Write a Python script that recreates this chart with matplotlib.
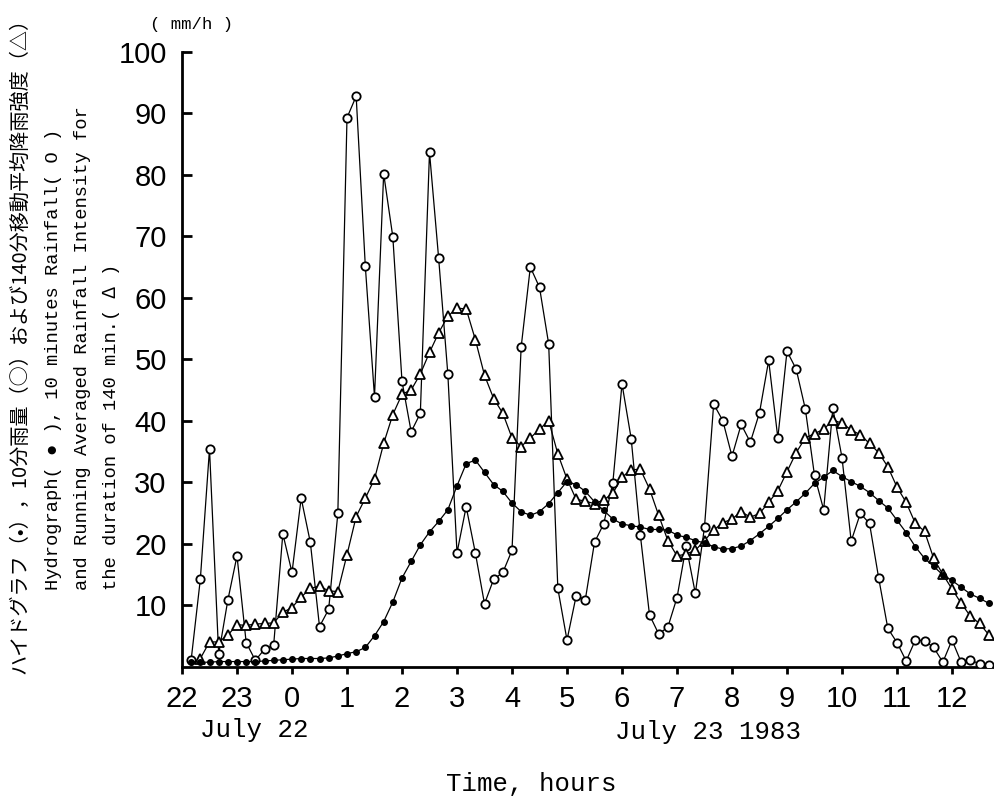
import numpy as np
import matplotlib.pyplot as plt

# 10-minute samples, k = 1, 2, ... counted from 22:00 July 22
STEP_H = 10 / 60

# hydrograph (filled dots)
hydro = [0.8, 0.7, 0.7, 0.8, 0.8, 0.8, 0.8, 0.8, 0.9, 1.0,
         1.1, 1.2, 1.3, 1.3, 1.3, 1.4, 1.7, 2.1, 2.4, 3.1,
         5.0, 7.3, 10.5, 14.4, 17.1, 19.8, 21.9, 23.6, 25.5, 29.4,
         33.0, 33.6, 31.6, 29.6, 28.5, 26.6, 25.2, 24.6, 25.2, 26.5,
         28.3, 30.1, 29.6, 28.5, 26.8, 25.4, 24.0, 23.2, 22.9, 22.7,
         22.3, 22.3, 22.2, 21.4, 21.0, 20.5, 20.1, 19.5, 19.1, 19.2,
         19.6, 20.5, 21.6, 22.8, 24.1, 25.5, 26.8, 28.2, 29.8, 30.8,
         31.9, 30.9, 30.1, 29.3, 28.3, 27.0, 25.8, 23.8, 21.8, 19.5,
         17.6, 16.3, 14.9, 14.0, 12.9, 11.8, 11.1, 10.3]

# 10 minutes rainfall (open circles)
rain10 = [1.1, 14.2, 35.4, 2.0, 10.8, 18.0, 3.9, 1.0, 2.8, 3.5,
          21.6, 15.3, 27.4, 20.2, 6.5, 9.3, 24.9, 89.3, 92.8, 65.1,
          43.9, 80.2, 69.9, 46.4, 38.2, 41.2, 83.7, 66.4, 47.6, 18.5,
          26.0, 18.5, 10.2, 14.2, 15.3, 18.9, 52.0, 65.0, 61.7, 52.5,
          12.7, 4.3, 11.5, 10.9, 20.2, 23.2, 29.9, 46.0, 37.1, 21.4,
          8.4, 5.3, 6.4, 11.2, 19.6, 11.9, 22.7, 42.7, 40.0, 34.2,
          39.4, 36.5, 41.3, 49.8, 37.2, 51.3, 48.4, 41.9, 31.1, 25.5,
          42.0, 34.0, 20.4, 24.9, 23.3, 14.4, 6.2, 3.9, 0.9, 4.3,
          4.2, 3.1, 0.7, 4.3, 0.7, 1.1, 0.4, 0.3]

# 140 min running averaged rainfall intensity (open triangles), starts at k = 2
rain140 = [1.3, 4.0, 4.0, 5.1, 6.8, 6.7, 6.9, 7.0, 7.1,
           8.8, 9.6, 11.3, 12.7, 13.1, 12.3, 12.2, 18.2, 24.4, 27.4,
           30.5, 36.3, 41.0, 44.3, 45.0, 47.6, 51.1, 54.3, 57.0, 58.3,
           58.2, 53.2, 47.4, 43.6, 41.2, 37.2, 35.8, 37.2, 38.6, 40.0,
           34.6, 30.5, 27.2, 26.9, 26.5, 27.1, 28.2, 30.8, 32.0, 32.1,
           28.9, 24.6, 20.5, 18.0, 18.3, 18.9, 20.5, 22.2, 23.4, 24.0,
           25.2, 24.3, 24.9, 26.7, 28.6, 31.7, 34.8, 37.2, 37.9, 38.6,
           40.1, 39.6, 38.5, 37.7, 36.3, 34.8, 32.5, 29.2, 26.7, 23.3,
           22.0, 17.6, 15.0, 12.6, 10.3, 8.2, 7.0, 5.2]

hour_labels = ['22', '23', '0', '1', '2', '3', '4', '5', '6', '7',
               '8', '9', '10', '11', '12']

t_hydro = np.arange(1, len(hydro) + 1) * STEP_H
t_rain10 = np.arange(1, len(rain10) + 1) * STEP_H
t_rain140 = np.arange(2, len(rain140) + 2) * STEP_H

fig = plt.figure(figsize=(9.94, 7.97), dpi=100)
ax = fig.add_axes([182 / 994, 1 - 666.5 / 797, 1 - 182 / 994, (666.5 - 52) / 797])

ax.plot(t_rain10, rain10, '-o', color='black', lw=0.9, ms=6,
        mfc='white', mec='black', mew=1.3, zorder=3)
ax.plot(t_rain140, rain140, '-^', color='black', lw=0.9, ms=7.5,
        mfc='white', mec='black', mew=1.3, zorder=4)
ax.plot(t_hydro, hydro, '-o', color='black', lw=0.9, ms=4,
        mfc='black', mec='black', zorder=5)

ax.set_xlim(0, (994 - 182) / 55)
ax.set_ylim(0, 100)
ax.spines['top'].set_visible(False)
ax.spines['right'].set_visible(False)
ax.spines['left'].set_linewidth(2)
ax.spines['bottom'].set_linewidth(2)

ax.set_yticks(range(10, 101, 10))
ax.set_xticks(range(len(hour_labels)))
ax.set_xticklabels(hour_labels)
ax.tick_params(axis='y', direction='in', length=7, width=2, pad=11)
ax.tick_params(axis='x', direction='out', length=5, width=2, pad=8)
for lab in ax.get_xticklabels() + ax.get_yticklabels():
    lab.set_fontfamily('Liberation Sans')
    lab.set_fontsize(21)

mono = ['Liberation Mono', 'DejaVu Sans Mono']

fig.text(192 / 994, 1 - 24 / 797, '( mm/h )', family=mono, fontsize=12.5,
         ha='center', va='center')

fig.text(20 / 994, 1 - 341 / 797,
         'ハイドグラフ（•），10分雨量（○）および140分移動平均降雨強度（△）',
         family=['Noto Sans CJK JP', 'DejaVu Sans'], fontsize=14.5,
         rotation=90, ha='center', va='center')

ylines = ['Hydrograph( ● ), 10 minutes Rainfall( O )',
          'and Running Averaged Rainfall Intensity for',
          'the duration of 140 min.( ∆ )']
for xpix, txt in zip([54, 83, 111], ylines):
    fig.text(xpix / 994, 1 - 590 / 797, txt, family=mono, fontsize=13.5,
             rotation=90, ha='center', va='bottom')

fig.text(254 / 994, 1 - 737 / 797, 'July 22', family=mono, fontsize=18.5,
         ha='center', va='baseline')
fig.text(708 / 994, 1 - 739 / 797, 'July 23 1983', family=mono, fontsize=18.5,
         ha='center', va='baseline')
fig.text(531 / 994, 1 - 791 / 797, 'Time, hours', family=mono, fontsize=18.5,
         ha='center', va='baseline')

fig.savefig('out.png', dpi=100)
